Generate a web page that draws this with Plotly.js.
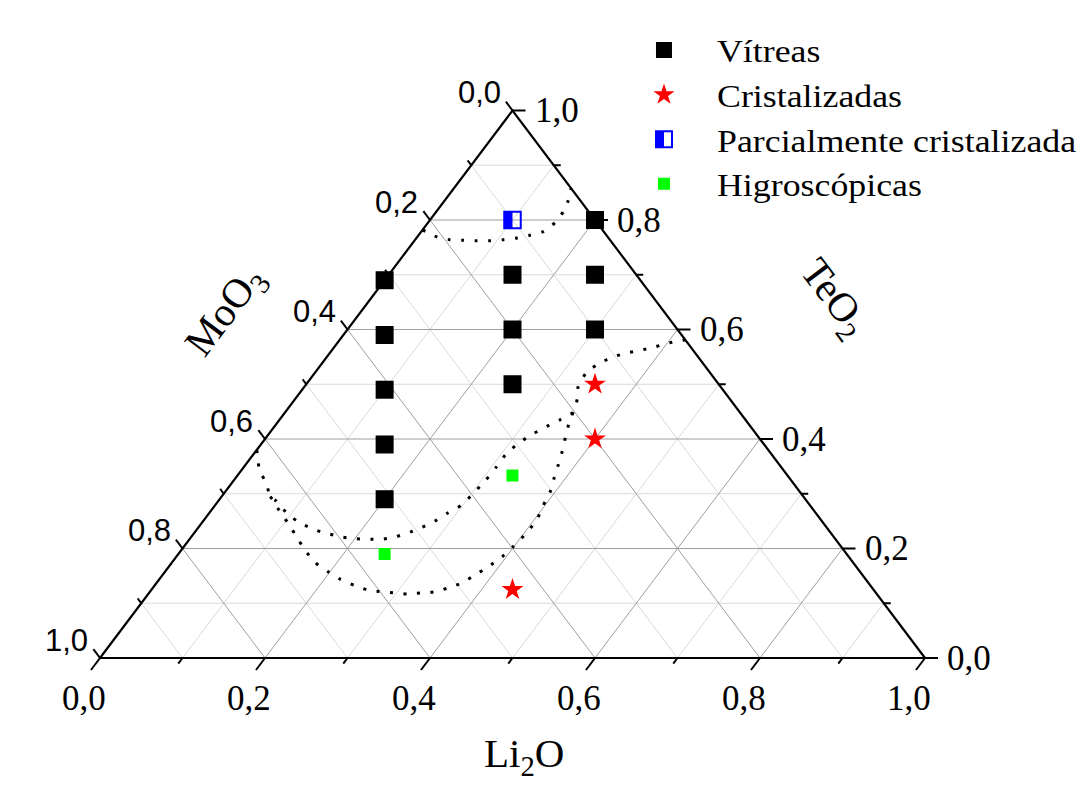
<!DOCTYPE html>
<html><head><meta charset="utf-8">
<script src="https://cdn.plot.ly/plotly-3.0.1.min.js"></script>
<style>
html,body{margin:0;padding:0;background:#fff;}
#chart{width:1086px;height:791px;}
.legendtext{transform-box:fill-box;transform-origin:0% 50%;transform:scaleX(1.12);}
</style></head><body><div id="chart"></div>
<script>
// ---- axes of the ternary diagram ----
const axisTitles = ['Li<sub>2</sub>O', 'TeO<sub>2</sub>', 'MoO<sub>3</sub>'];
const majorTicks = [0, 0.2, 0.4, 0.6, 0.8, 1.0];
const minorTicks = [0.1, 0.3, 0.5, 0.7, 0.9];
const tickLabels = ['0,0', '0,2', '0,4', '0,6', '0,8', '1,0'];

// ---- samples (molar fractions; MoO3 = 1 - Li2O - TeO2) ----
const seriesNames = ['Vítreas', 'Cristalizadas', 'Parcialmente cristalizada', 'Higroscópicas'];
const vitreasLi2O = [0.00, 0.05, 0.10, 0.15, 0.20, 0.15, 0.20, 0.25, 0.20, 0.25, 0.30];
const vitreasTeO2 = [0.69, 0.59, 0.49, 0.39, 0.29, 0.70, 0.60, 0.50, 0.80, 0.70, 0.60];
const cristLi2O = [0.35, 0.40, 0.4375];
const cristTeO2 = [0.50, 0.40, 0.125];
const parcLi2O = [0.10];
const parcTeO2 = [0.80];
const higroLi2O = [0.25, 0.3333];
const higroTeO2 = [0.19, 0.3333];

// ---- dotted region boundaries ----
const boundALi2O = [0.000,0.024,0.042,0.059,0.076,0.092,0.107,0.122,0.135,0.148,0.154,0.154,0.150,0.142];
const boundATeO2 = [0.782,0.769,0.764,0.763,0.762,0.762,0.764,0.767,0.772,0.779,0.795,0.815,0.835,0.858];
const boundBLi2O = [0.000,0.022,0.042,0.059,0.070,0.096,0.122,0.144,0.163,0.183,0.200,0.216,0.233,0.247,0.261,0.271,0.281,0.289,0.299,0.302,0.305,0.306,0.306,0.312,0.320,0.330,0.340,0.349,0.342,0.332,0.329,0.337,0.347,0.360,0.374,0.388,0.401,0.419];
const boundBTeO2 = [0.380,0.343,0.319,0.295,0.287,0.263,0.245,0.234,0.227,0.221,0.218,0.217,0.217,0.221,0.230,0.239,0.250,0.265,0.280,0.300,0.323,0.349,0.374,0.394,0.409,0.423,0.435,0.449,0.473,0.495,0.522,0.539,0.550,0.557,0.562,0.568,0.575,0.581];
const boundCLi2O = [0.059,0.082,0.106,0.128,0.148,0.174,0.197,0.219,0.243,0.263,0.282,0.298,0.315,0.331,0.346,0.358,0.370,0.379,0.387,0.395,0.399,0.403,0.403,0.398,0.394,0.386,0.379,0.372,0.363,0.355,0.349];
const boundCTeO2 = [0.295,0.270,0.245,0.221,0.199,0.174,0.158,0.144,0.132,0.124,0.121,0.119,0.117,0.119,0.121,0.128,0.137,0.152,0.166,0.185,0.203,0.230,0.254,0.278,0.303,0.329,0.353,0.376,0.402,0.426,0.449];

// ---- geometry of the (non-equilateral) triangle on the page ----
const W = 1086, H = 791;
const LEFT = 100, RIGHT = 925, BOTTOM = 658, TOP = 110.5;
const PX = RIGHT - LEFT, PY = BOTTOM - TOP;
const SIDE = Math.sqrt((PX / 2) ** 2 + PY ** 2);

// ternary -> cartesian (x = Li2O + TeO2/2, y = TeO2)
const tx = (l, t) => l + t / 2;
const ty = (l, t) => t;
function convert(L, T) {
  return { x: L.map((l, i) => tx(l, T[i])), y: L.map((l, i) => ty(l, T[i])) };
}

const SERIF = 'Liberation Serif, Times New Roman, serif';
const SANS = 'Liberation Sans, Arial, sans-serif';

function gridLines(vals) {
  const x = [], y = [];
  vals.forEach(v => {
    x.push(tx(0, v), tx(1 - v, v), null); y.push(ty(0, v), ty(1 - v, v), null);           // TeO2 = v
    x.push(tx(v, 0), tx(v, 1 - v), null); y.push(ty(v, 0), ty(v, 1 - v), null);           // Li2O = v
    x.push(tx(1 - v, 0), tx(0, 1 - v), null); y.push(ty(1 - v, 0), ty(0, 1 - v), null);   // MoO3 = v
  });
  return { x, y };
}

function tickLines(vals, lenB, lenR, lenL) {
  const x = [], y = [];
  const kb = lenB / SIDE, kl = lenL / SIDE, kr = lenR / PX;
  vals.forEach(v => {
    const bx = tx(v, 0), by = ty(v, 0);
    x.push(bx, bx - 0.5 * kb, null); y.push(by, by - kb, null);
    const rx = tx(1 - v, v), ry = ty(1 - v, v);
    x.push(rx, rx + kr, null); y.push(ry, ry, null);
    const lx = tx(0, 1 - v), ly = ty(0, 1 - v);
    x.push(lx, lx - 0.5 * kl, null); y.push(ly, ly + kl, null);
  });
  return { x, y };
}

const traces = [];
const gMin = gridLines(minorTicks);
traces.push({ x: gMin.x, y: gMin.y, mode: 'lines', line: { color: '#dadada', width: 1 }, showlegend: false, hoverinfo: 'skip' });
const gMaj = gridLines(majorTicks.slice(1, -1));
traces.push({ x: gMaj.x, y: gMaj.y, mode: 'lines', line: { color: '#9e9e9e', width: 1 }, showlegend: false, hoverinfo: 'skip' });

traces.push({ x: [tx(0, 0), tx(1, 0), tx(0, 1), tx(0, 0)], y: [ty(0, 0), ty(1, 0), ty(0, 1), ty(0, 0)],
  mode: 'lines', line: { color: '#000', width: 2.2 }, showlegend: false, hoverinfo: 'skip' });

const tMaj = tickLines(majorTicks, 15, 13, 11);
traces.push({ x: tMaj.x, y: tMaj.y, mode: 'lines', line: { color: '#000', width: 2 }, showlegend: false, hoverinfo: 'skip' });
const tMin = tickLines(minorTicks, 7, 7, 6);
traces.push({ x: tMin.x, y: tMin.y, mode: 'lines', line: { color: '#000', width: 2 }, showlegend: false, hoverinfo: 'skip' });

[[boundALi2O, boundATeO2], [boundBLi2O, boundBTeO2], [boundCLi2O, boundCTeO2]].forEach(([L, T]) => {
  const c = convert(L, T);
  traces.push({ x: c.x, y: c.y, mode: 'lines', line: { color: '#000', width: 3, dash: '3px,10.5px', shape: 'spline', smoothing: 0.6 },
    showlegend: false, hoverinfo: 'skip' });
});

const vit = convert(vitreasLi2O, vitreasTeO2);
traces.push({ x: vit.x, y: vit.y, mode: 'markers', name: seriesNames[0], marker: { symbol: 'square', size: 18, color: '#000' }, cliponaxis: false });
const cri = convert(cristLi2O, cristTeO2);
traces.push({ x: cri.x, y: cri.y, mode: 'markers', name: seriesNames[1], marker: { symbol: 'star', size: 16.5, color: '#ff0000' }, cliponaxis: false });
const par = convert(parcLi2O, parcTeO2);
traces.push({ x: par.x, y: par.y, mode: 'markers', name: seriesNames[2], marker: { symbol: 'square-open', size: 16.5, color: '#0000ff', line: { color: '#0000ff', width: 2 } }, cliponaxis: false });
const hig = convert(higroLi2O, higroTeO2);
traces.push({ x: hig.x, y: hig.y, mode: 'markers', name: seriesNames[3], marker: { symbol: 'square', size: 12, color: '#00ff00' }, cliponaxis: false });

const shapes = par.x.map((x, i) => ({ type: 'rect', xref: 'x', yref: 'y', xsizemode: 'pixel', ysizemode: 'pixel',
  xanchor: x, yanchor: par.y[i], x0: -8.25, x1: 0, y0: -8.25, y1: 8.25, fillcolor: '#0000ff', line: { width: 0 }, layer: 'above' }));

const annotations = [];
majorTicks.forEach((v, i) => {
  annotations.push({ x: tx(v, 0), y: ty(v, 0), text: tickLabels[i], showarrow: false, xanchor: 'center', yanchor: 'middle',
    xshift: -16, yshift: -40, font: { family: SERIF, size: 35, color: '#000' } });
  annotations.push({ x: tx(1 - v, v), y: ty(1 - v, v), text: tickLabels[i], showarrow: false, xanchor: 'left', yanchor: 'middle',
    xshift: 20, yshift: 0, font: { family: SERIF, size: 35, color: '#000' } });
  annotations.push({ x: tx(0, 1 - v), y: ty(0, 1 - v), text: tickLabels[i], showarrow: false, xanchor: 'right', yanchor: 'middle',
    xshift: -10, yshift: 18, font: { family: SANS, size: 31, color: '#000' } });
});
annotations.push({ x: tx(0.5, 0), y: 0, text: axisTitles[0], showarrow: false, xanchor: 'center', yanchor: 'middle',
  xshift: 11, yshift: -98, font: { family: SERIF, size: 41, color: '#000' } });
annotations.push({ x: tx(0.5, 0.5), y: 0.5, text: axisTitles[1], showarrow: false, xanchor: 'center', yanchor: 'middle',
  textangle: 53, xshift: 114, yshift: 86, font: { family: SERIF, size: 41, color: '#000' } });
annotations.push({ x: tx(0, 0.5), y: 0.5, text: axisTitles[2], showarrow: false, xanchor: 'center', yanchor: 'middle',
  textangle: -53, xshift: -80, yshift: 72, font: { family: SERIF, size: 41, color: '#000' } });

const layout = {
  width: W, height: H, margin: { l: 0, r: 0, t: 0, b: 0 },
  paper_bgcolor: '#fff', plot_bgcolor: 'rgba(0,0,0,0)',
  xaxis: { range: [-LEFT / PX, (W - LEFT) / PX], visible: false, fixedrange: true },
  yaxis: { range: [-(H - BOTTOM) / PY, BOTTOM / PY], visible: false, fixedrange: true },
  showlegend: true,
  legend: { x: 0.5626, y: 0.9713, xanchor: 'left', yanchor: 'top', itemwidth: 96, tracegroupgap: 0,
    bgcolor: 'rgba(0,0,0,0)', borderwidth: 0, font: { family: SERIF, size: 32, color: '#000' } },
  annotations, shapes
};

const gd = document.getElementById('chart');
Plotly.newPlot(gd, traces, layout, { displayModeBar: false }).then(() => {
  const g = gd.getBoundingClientRect();
  gd.querySelectorAll('.legend .traces').forEach(it => {
    const txt = it.querySelector('.legendtext');
    const pt = it.querySelector('.legendpoints path');
    if (txt && pt && txt.textContent === seriesNames[2]) {
      const r = pt.getBoundingClientRect();
      const cx = (r.left + r.right) / 2 - g.left, cy = (r.top + r.bottom) / 2 - g.top;
      const half = (r.right - r.left) / 2;
      const s = shapes.concat([{ type: 'rect', xref: 'paper', yref: 'paper', xsizemode: 'pixel', ysizemode: 'pixel',
        xanchor: cx / W, yanchor: 1 - cy / H, x0: -half, x1: 0, y0: -half, y1: half, fillcolor: '#0000ff', line: { width: 0 }, layer: 'above' }]);
      Plotly.relayout(gd, { shapes: s });
    }
  });
});
</script></body></html>
